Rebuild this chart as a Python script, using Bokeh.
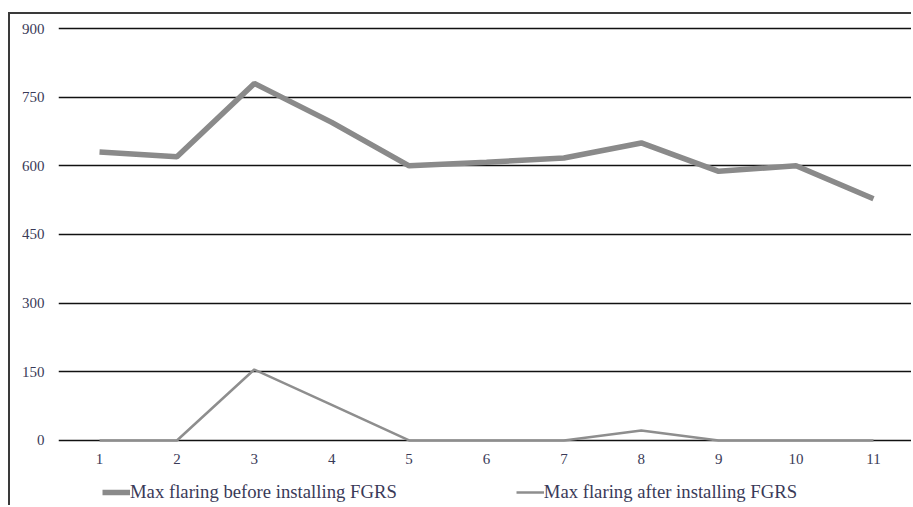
from bokeh.plotting import figure
from bokeh.models import Legend, LegendItem, FixedTicker, Range1d
from bokeh.embed import file_html
from bokeh.resources import INLINE

periods = [1, 2, 3, 4, 5, 6, 7, 8, 9, 10, 11]
before_fgrs = [630, 620, 780, 695, 600, 608, 617, 650, 588, 600, 528]
after_fgrs = [0, 0, 155, 78, 0, 0, 0, 22, 0, 0, 0]
y_ticks = [0, 150, 300, 450, 600, 750, 900]
label_before = "Max flaring before installing FGRS"
label_after = "Max flaring after installing FGRS"

FONT = "Liberation Serif"
TXT = "#3a3a58"

p = figure(width=903, height=493, output_backend="svg", toolbar_location=None,
           x_range=Range1d(0.470, 11.517), y_range=Range1d(-146.4, 917.5),
           min_border_left=48, min_border_right=0, min_border_top=6, min_border_bottom=0)
p.styles = {"border-top": "2px solid #3a3a3a", "border-left": "2px solid #3a3a3a",
            "margin-top": "12px", "margin-left": "8px"}
p.outline_line_color = None
p.background_fill_color = "white"

p.xgrid.grid_line_color = None
p.ygrid.grid_line_color = "#111111"
p.ygrid.grid_line_width = 1.7
p.ygrid.ticker = FixedTicker(ticks=y_ticks)

p.yaxis.ticker = FixedTicker(ticks=y_ticks)
p.xaxis.ticker = FixedTicker(ticks=periods)
p.xaxis.fixed_location = -17.5
for ax in (p.xaxis[0], p.yaxis[0]):
    ax.axis_line_color = None
    ax.major_tick_line_color = None
    ax.minor_tick_line_color = None
    ax.major_tick_out = 0
    ax.major_tick_in = 0
    ax.minor_tick_out = 0
    ax.major_label_text_font = FONT
    ax.major_label_text_font_size = "15px"
    ax.major_label_text_color = TXT
p.yaxis.major_label_standoff = 14
p.xaxis.major_label_standoff = 6

r1 = p.line(periods, before_fgrs, line_color="#8a8a8a", line_width=5.5)
r2 = p.line(periods, after_fgrs, line_color="#8e8e8e", line_width=2.5)

legend = Legend(items=[LegendItem(label=label_before, renderers=[r1]),
                       LegendItem(label=label_after, renderers=[r2])],
                orientation="horizontal", location=(44, 4),
                padding=0, margin=0, spacing=119, glyph_width=28, glyph_height=16,
                label_standoff=0, border_line_color=None, background_fill_alpha=0,
                label_text_font=FONT, label_text_font_size="18.7px", label_text_color=TXT)
p.add_layout(legend, "center")

open("out.html", "w").write(file_html(p, INLINE))
